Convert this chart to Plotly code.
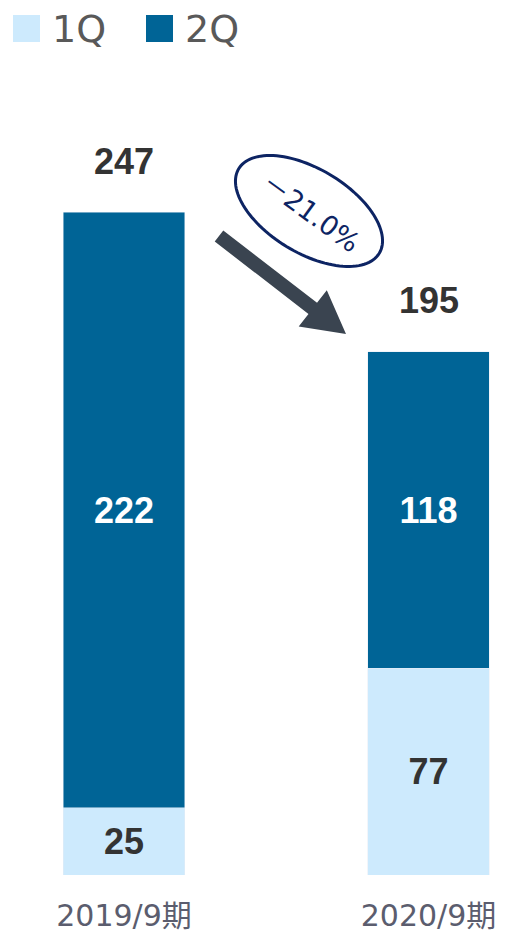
import numpy as np
import plotly.graph_objects as go

# --- data -------------------------------------------------------------
periods = ["2019/9期", "2020/9期"]
q1_values = [25, 77]
q2_values = [222, 118]
totals = [a + b for a, b in zip(q1_values, q2_values)]
change_label = "－21.0%"
series_names = ["1Q", "2Q"]

# --- layout constants (pixels) -----------------------------------------
W, H = 520, 935
M_L, M_R, M_T, M_B = 0, 0, 70, 60
PLOT_H = H - M_T - M_B
Y_MAX = 300

C_Q1 = "#cdeafd"
C_Q2 = "#006496"
C_TEXT = "#333333"
C_TICK = "#5b5d6e"
THIN = "DejaVu Sans, Noto Sans CJK JP"


def px_x(px):
    return (px - M_L) / (W - M_L - M_R)


def px_y(py):
    return (H - M_B - py) / PLOT_H


xs = list(range(len(periods)))

fig = go.Figure()
fig.add_trace(go.Bar(
    x=xs, y=q1_values, name=series_names[0], marker_color=C_Q1,
    text=[str(v) for v in q1_values], textposition="inside",
    insidetextanchor="middle", constraintext="none",
    textfont=dict(family="Liberation Sans", size=36, color=C_TEXT, weight="bold"),
    width=0.4, showlegend=False,
))
fig.add_trace(go.Bar(
    x=xs, y=q2_values, name=series_names[1], marker_color=C_Q2,
    text=[str(v) for v in q2_values], textposition="inside",
    insidetextanchor="middle", constraintext="none",
    textfont=dict(family="Liberation Sans", size=36, color="white", weight="bold"),
    width=0.4, showlegend=False,
))

annotations = []
# totals above each stack
for x, t in zip(xs, totals):
    annotations.append(dict(
        x=x, y=t, xref="x", yref="y", text=str(t), showarrow=False,
        yanchor="middle", yshift=51,
        font=dict(family="Liberation Sans", size=36, color=C_TEXT, weight="bold"),
    ))

shapes = []

# legend: squares + labels
legend_items = [(13, series_names[0], C_Q1), (146, series_names[1], C_Q2)]
for x0, name, col in legend_items:
    shapes.append(dict(type="rect", xref="paper", yref="paper",
                       x0=px_x(x0), x1=px_x(x0 + 27), y0=px_y(42), y1=px_y(15),
                       fillcolor=col, line=dict(width=0)))
    annotations.append(dict(
        x=px_x(x0 + 37), y=px_y(29), xref="paper", yref="paper", text=name,
        showarrow=False, xanchor="left", yanchor="middle",
        font=dict(family=THIN, size=38, color="#595959"),
    ))

# rotated ellipse around the change label
cx, cy, a, b, th = 309, 211, 82, 42, np.deg2rad(31)
t = np.linspace(0, 2 * np.pi, 120)
ex = cx + a * np.cos(t) * np.cos(th) - b * np.sin(t) * np.sin(th)
ey = cy + a * np.cos(t) * np.sin(th) + b * np.sin(t) * np.cos(th)
path = "M " + " L ".join(f"{px_x(u):.5f},{px_y(v):.5f}" for u, v in zip(ex, ey)) + " Z"
shapes.append(dict(type="path", xref="paper", yref="paper", path=path,
                   line=dict(color="#0d2463", width=3)))
annotations.append(dict(
    x=px_x(cx + 2), y=px_y(cy + 1), xref="paper", yref="paper", text=change_label,
    showarrow=False, textangle=36, xanchor="center", yanchor="middle",
    font=dict(family=THIN, size=27, color="#0d2463"),
))

# downward arrow between the two stacks
sx, sy = 219, 236
tx, ty = 346, 334
d = np.array([tx - sx, ty - sy], dtype=float)
u = d / np.linalg.norm(d)
n = np.array([-u[1], u[0]])
sw, hl, hw = 7, 42, 23
base = np.array([tx, ty]) - hl * u
pts = [
    np.array([sx, sy]) + sw * n,
    base + sw * n,
    base + hw * n,
    np.array([tx, ty]),
    base - hw * n,
    base - sw * n,
    np.array([sx, sy]) - sw * n,
]
apath = "M " + " L ".join(f"{px_x(p[0]):.5f},{px_y(p[1]):.5f}" for p in pts) + " Z"
shapes.append(dict(type="path", xref="paper", yref="paper", path=apath,
                   fillcolor="#3a4450", line=dict(width=0)))

x_lo = -124 / 304.5
x_hi = x_lo + W / 304.5

fig.update_layout(
    barmode="stack",
    width=W, height=H,
    margin=dict(l=M_L, r=M_R, t=M_T, b=M_B),
    paper_bgcolor="white", plot_bgcolor="white",
    xaxis=dict(range=[x_lo, x_hi], tickvals=xs, ticktext=periods,
               showgrid=False, zeroline=False, showline=False, ticks="",
               ticklabelstandoff=20,
               tickfont=dict(family=THIN, size=30, color=C_TICK)),
    yaxis=dict(range=[0, Y_MAX], visible=False),
    shapes=shapes,
    annotations=annotations,
    showlegend=False,
)

fig.write_html("out.html")
